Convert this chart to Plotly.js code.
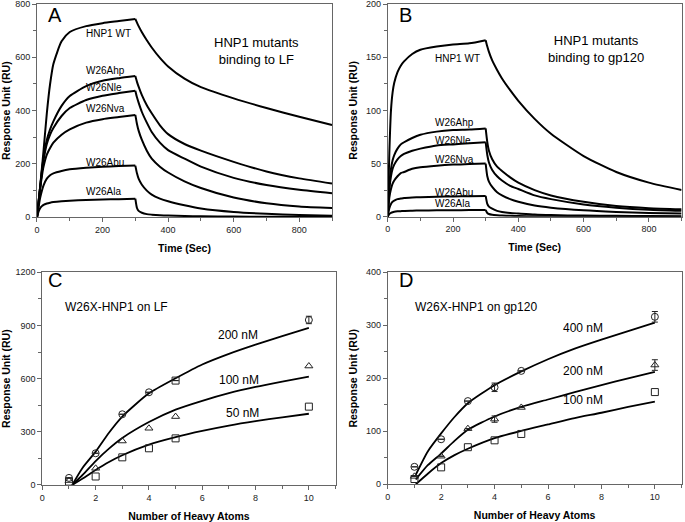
<!DOCTYPE html>
<html><head><meta charset="utf-8">
<script src="https://cdn.plot.ly/plotly-3.0.1.min.js"></script>
<style>html,body{margin:0;padding:0;background:#fff}#chart{width:685px;height:522px}</style>
</head><body><div id="chart"></div>
<script>
// ---------- Panel A / B : time grids (s) ----------
const tAssoc = [0,5,10,15,20,30,40,50,75,100,150,200,250,300];
const tDiss  = [300,305,310,320,335,350,375,400,450,500,600,700,800,900];
const curveNames = ["HNP1 WT","W26Ahp","W26Nle","W26Nva","W26Abu","W26Ala"];

// Panel A: binding to LF (RU)
const lfAssocWT  = [0,60,120,185,250,390,500,575,660,695,717,728,736,744];
const lfAssocAhp = [0,60,118,175,225,290,330,360,418,455,492,512,522,530];
const lfAssocNle = [0,60,117,170,215,275,310,335,380,410,440,456,466,475];
const lfAssocNva = [0,55,110,155,190,235,260,280,310,330,355,368,376,384];
const lfAssocAbu = [0,40,75,100,120,145,158,165,174,180,186,190,192,194];
const lfAssocAla = [0,22,35,42,47,52,55,57,60,62,65,67,68,70];
const lfDissWT  = [744,730,717,694,664,637,598,566,520,488,446,410,377,346];
const lfDissAhp = [530,508,490,458,420,390,345,312,275,250,208,172,146,127];
const lfDissNle = [475,450,430,395,355,320,280,252,220,190,148,121,103,90];
const lfDissNva = [384,350,325,290,250,220,190,168,135,110,74,53,41,35];
const lfDissAbu = [194,165,145,122,100,85,70,60,45,33,20,13,9,6];
const lfDissAla = [70,35,24,17,12,10,8,7,5,4,3,2,1.5,1];

// Panel B: binding to gp120 (RU)
const gpAssocWT  = [0,60,100,117,126,136,142,146,153,157,160,162,163,166];
const gpAssocAhp = [0,30,45,53,58,64,68,70,74,77,80,81.5,82,83];
const gpAssocNle = [0,26,38,45,49,54,57,59,62,64,67,68,69,70];
const gpAssocNva = [0,18,26,31,34,38,41,42,45,46.5,48,49,49.5,50];
const gpAssocAbu = [0,8,12,14,15,16.5,17,17.5,18,18.3,18.8,19,19.3,19.5];
const gpAssocAla = [0,2.5,3.5,4.2,4.6,5,5.2,5.4,5.6,5.8,6,6.1,6.2,6.3];
const gpDissWT  = [166,160,155,147,138,130,119,109,92,78,57,42,32,25];
const gpDissAhp = [83,70,62,54,47,43,37,32,25,20,14,10,8,7];
const gpDissNle = [70,58,51,44,38,34,29,26,20,16.5,11.5,8.5,6.5,5.5];
const gpDissNva = [50,38,33,28,23,20,16.5,14,10.5,8.5,6,4.5,3.5,3];
const gpDissAbu = [19.5,12,9.5,7.5,5.5,4.5,3.5,3,2,1.5,1,0.8,0.6,0.5];
const gpDissAla = [6.3,3.5,2.5,1.8,1.3,1,0.8,0.6,0.4,0.3,0.2,0.1,0.1,0];

// ---------- Panel C / D ----------
const heavyAtoms = [1,2,3,4,5,10];
const lf200 = [40,179,399,523,589,931];
const lf200Err = [0,0,0,0,0,21];
const lf100 = [25,94,248,320,386,671];
const lf50  = [19,48,156,207,263,442];
const fitXC = [1.12,1.5,2,2.5,3,4,5,6,7,8,9,10];
const lfFit200 = [0,95,188,295,386,517,602,680,740,792,840,886];
const lfFit100 = [0,55,135,205,265,355,425,475,518,553,583,611];
const lfFit50  = [0,35,85,130,168,228,270,305,335,360,382,402];

const gp400 = [33,85,157,183,214,316];
const gp400Err = [0,0,0,8,0,10];
const gp200 = [15,53,105,123,145,225];
const gp200Err = [0,0,0,6,0,10];
const gp100 = [10,32,70,83,95,174];
const fitXD = [1.05,1.5,2,2.5,3,4,5,6,7,8,9,10];
const gpFit400 = [18,62,96,127,153,187,213,236,256,273,289,305];
const gpFit200 = [9,36,58,82,103,128,146,160,174,187,200,212];
const gpFit100 = [0,20,40,55,67,87,101,113,125,135,146,156];

const concLabelsC = ["200 nM","100 nM","50 nM"];
const concLabelsD = ["400 nM","200 nM","100 nM"];

// ---------- traces ----------
const traces = [];
function curve(x, y, xa, ya, w){
  traces.push({x:x, y:y, xaxis:xa, yaxis:ya, mode:'lines', type:'scatter',
    line:{color:'#000', width:w, shape:'spline', smoothing:0.6}, hoverinfo:'skip', showlegend:false});
}
const lfA = [lfAssocWT,lfAssocAhp,lfAssocNle,lfAssocNva,lfAssocAbu,lfAssocAla];
const lfD = [lfDissWT,lfDissAhp,lfDissNle,lfDissNva,lfDissAbu,lfDissAla];
const gpA = [gpAssocWT,gpAssocAhp,gpAssocNle,gpAssocNva,gpAssocAbu,gpAssocAla];
const gpD = [gpDissWT,gpDissAhp,gpDissNle,gpDissNva,gpDissAbu,gpDissAla];
for (let i=0;i<6;i++){
  curve(tAssoc, lfA[i], 'x','y',2); curve(tDiss, lfD[i], 'x','y',2);
  curve(tAssoc, gpA[i], 'x2','y2',2); curve(tDiss, gpD[i], 'x2','y2',2);
}
curve(fitXC, lfFit200, 'x3','y3',1.8); curve(fitXC, lfFit100, 'x3','y3',1.8); curve(fitXC, lfFit50, 'x3','y3',1.8);
curve(fitXD, gpFit400, 'x4','y4',1.8); curve(fitXD, gpFit200, 'x4','y4',1.8); curve(fitXD, gpFit100, 'x4','y4',1.8);

function pts(y, err, sym, xa, ya){
  const t = {x:heavyAtoms, y:y, xaxis:xa, yaxis:ya, mode:'markers', type:'scatter', showlegend:false,
    marker:{symbol:sym, size:7, color:'#222', line:{width:1, color:'#222'}}, hoverinfo:'skip'};
  if (err) t.error_y = {type:'data', array:err, visible:true, color:'#222', thickness:1, width:3};
  traces.push(t);
}
pts(lf200, lf200Err, ['circle-open','circle-open','circle-open','circle-open','square-open','circle-open'], 'x3','y3');
pts(lf100, null, 'triangle-up-open', 'x3','y3');
pts(lf50, null, 'square-open', 'x3','y3');
pts(gp400, gp400Err, 'circle-open', 'x4','y4');
pts(gp200, gp200Err, 'triangle-up-open', 'x4','y4');
pts(gp100, null, 'square-open', 'x4','y4');

// ---------- layout ----------
const F = 'Liberation Sans, Arial, sans-serif';
function ax(dom, range, dtick, minor, title, anchor, standoff){
  return {domain:dom, range:range, dtick:dtick, tick0:0, anchor:anchor,
    showgrid:false, zeroline:false, showline:true, mirror:true, linecolor:'#666', linewidth:1,
    ticks:'outside', ticklen:4, tickcolor:'#666', tickwidth:1, ticklabeloverflow:'allow',
    minor:{dtick:minor, ticks:'outside', ticklen:3, tickcolor:'#666', showgrid:false},
    tickfont:{family:F, size:9, color:'#222'},
    title:{text:title, font:{family:F, size:10.5, color:'#000', weight:'bold'}, standoff:standoff},
    automargin:false, fixedrange:true};
}
const layout = {
  width:685, height:522, margin:{l:0,r:0,t:0,b:0}, paper_bgcolor:'#fff', plot_bgcolor:'#fff',
  showlegend:false, font:{family:F},
  xaxis:  ax([0.054,0.4847],[0,900],200,100,'<b>Time (Sec)</b>','y',10),
  yaxis:  ax([0.5837,0.9923],[0,800],200,100,'<b>Response Unit (RU)</b>','x',6),
  xaxis2: ax([0.566,0.995],[0,900],200,100,'<b>Time (Sec)</b>','y2',10),
  yaxis2: ax([0.5849,0.9923],[0,200],50,25,'<b>Response Unit (RU)</b>','x2',6),
  xaxis3: ax([0.0618,0.4898],[0,11],2,1,'<b>Number of Heavy Atoms</b>','y3',10),
  yaxis3: ax([0.0709,0.4784],[0,1200],300,150,'<b>Response Unit (RU)</b>','x3',6),
  xaxis4: ax([0.566,0.995],[0,11],2,1,'<b>Number of Heavy Atoms</b>','y4',10),
  yaxis4: ax([0.0722,0.4784],[0,400],100,50,'<b>Response Unit (RU)</b>','x4',6),
  annotations:[]
};
const ann = layout.annotations;
function txt(x,y,xr,yr,s,size,xanchor){
  ann.push({x:x,y:y,xref:xr,yref:yr,text:s,showarrow:false,xanchor:xanchor||'left',yanchor:'middle',
    font:{family:F,size:size,color:'#000'},align:'center'});
}
// panel letters
txt(55,759,'x','y','A',20,'center');
txt(53,190,'x2','y2','B',20,'center');
txt(0.48,1156,'x3','y3','C',20,'center');
txt(0.68,385,'x4','y4','D',20,'center');
// panel A / B curve labels
const lfLabelY = [691,551,487,409,204,95];
const gpLabelY = [149,89,72,54,22.3,12];
for (let i=0;i<6;i++){
  txt(143, lfLabelY[i], 'x','y', curveNames[i], 10);
  txt(138, gpLabelY[i], 'x2','y2', curveNames[i], 10);
}
txt(670,625,'x','y','HNP1 mutants<br>binding to LF',13,'center');
txt(638,158,'x2','y2','HNP1 mutants<br>binding to gp120',13,'center');
txt(0.78,1004,'x3','y3','W26X-HNP1 on LF',12);
txt(0.93,335,'x4','y4','W26X-HNP1 on gp120',12);
const cLabX = [6.5,6.56,6.83], cLabY = [846,592,406];
const dLabX = [6.48,6.48,6.48], dLabY = [295,214,159];
for (let i=0;i<3;i++){
  txt(cLabX[i], cLabY[i], 'x3','y3', concLabelsC[i], 12);
  txt(dLabX[i], dLabY[i], 'x4','y4', concLabelsD[i], 12);
}
Plotly.newPlot('chart', traces, layout, {staticPlot:true, displayModeBar:false});
</script></body></html>
